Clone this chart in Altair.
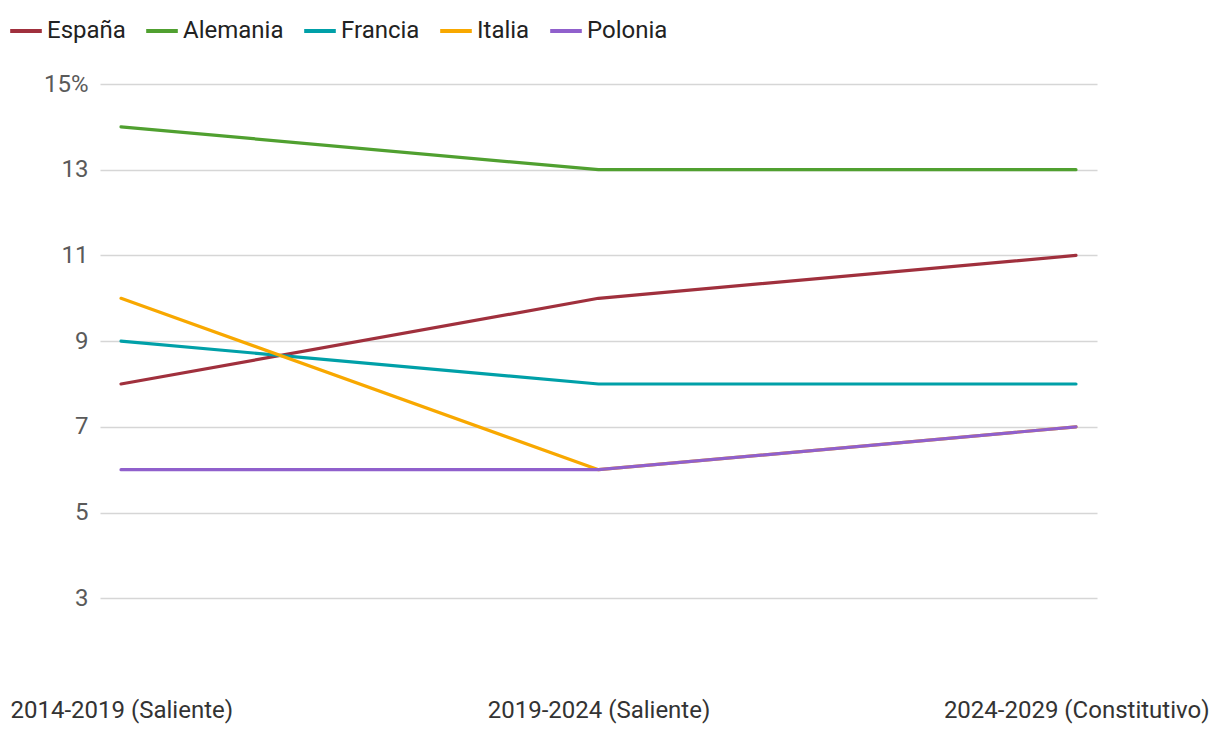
import altair as alt
import pandas as pd

periods = ["2014-2019 (Saliente)", "2019-2024 (Saliente)", "2024-2029 (Constitutivo)"]
countries = ["España", "Alemania", "Francia", "Italia", "Polonia"]
colors = ["#a0303d", "#50a030", "#00a0a8", "#f8a800", "#9060cc"]
espana = [8, 10, 11]
alemania = [14, 13, 13]
francia = [9, 8, 8]
italia = [10, 6, 7]
polonia = [6, 6, 7]

series = [espana, alemania, francia, italia, polonia]
rows = []
for i, (c, vals) in enumerate(zip(countries, series)):
    for p, v in zip(periods, vals):
        rows.append({"pais": c, "periodo": p, "valor": v, "orden": i})
df = pd.DataFrame(rows)

label_offset = (
    f"datum.value == '{periods[0]}' ? -111 : (datum.value == '{periods[2]}' ? 133 : 0)"
)
label_align = (
    f"datum.value == '{periods[0]}' ? 'left' : (datum.value == '{periods[2]}' ? 'right' : 'center')"
)

chart = (
    alt.Chart(df)
    .mark_line(strokeWidth=3.2, strokeCap="round", strokeJoin="round")
    .encode(
        x=alt.X(
            "periodo:N",
            sort=periods,
            scale=alt.Scale(type="point", padding=0.044),
            axis=alt.Axis(
                title=None,
                labelAngle=0,
                ticks=False,
                domain=False,
                grid=False,
                labelFontSize=24,
                labelColor="#333333",
                labelPadding=14,
                labelLimit=0,
                labelAlign={"expr": label_align},
                labelOffset={"expr": label_offset},
            ),
        ),
        y=alt.Y(
            "valor:Q",
            scale=alt.Scale(domain=[1, 15], nice=False, zero=False),
            axis=alt.Axis(
                title=None,
                values=[3, 5, 7, 9, 11, 13, 15],
                labelExpr="datum.value == 15 ? '15%' : datum.label",
                ticks=False,
                domain=False,
                labelFontSize=24,
                labelColor="#5a5a5a",
                labelPadding=12,
                gridColor="#d6d6d6",
                gridWidth=1.5,
            ),
        ),
        color=alt.Color(
            "pais:N",
            sort=countries,
            scale=alt.Scale(domain=countries, range=colors),
            legend=alt.Legend(
                title=None,
                orient="none",
                direction="horizontal",
                legendX=-92,
                legendY=-71,
                symbolType="stroke",
                symbolStrokeWidth=4,
                symbolSize=1000,
                labelFontSize=24,
                labelColor="#222222",
                labelOffset=3,
                columnPadding=12,
                symbolOpacity=1,
                labelLimit=0,
            ),
        ),
        order=alt.Order("orden:Q"),
    )
    .properties(
        width=997,
        height=600,
        autosize=alt.AutoSizeParams(type="none"),
        padding={"left": 100, "top": 84, "right": 123, "bottom": 50},
    )
    .configure(font="Roboto")
    .configure_view(stroke=None)
)

chart.save("out.html", embed_options={"renderer": "svg", "actions": False})
